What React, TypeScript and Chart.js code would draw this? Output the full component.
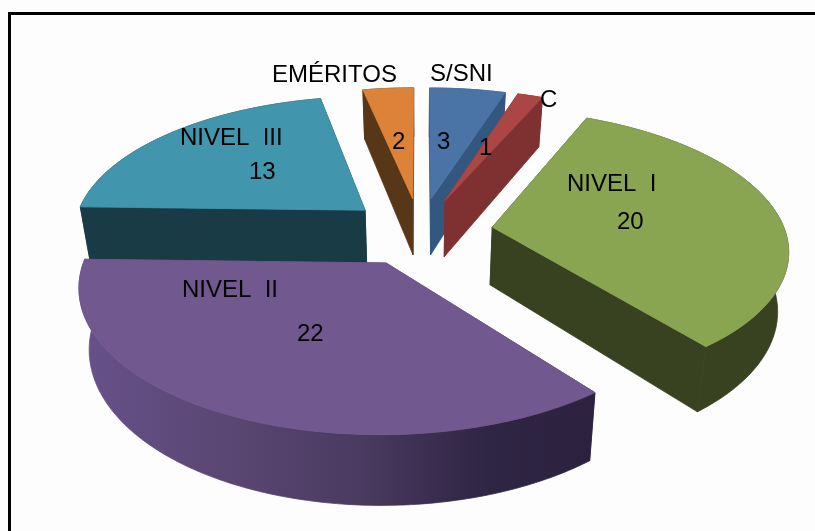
import React, { useEffect, useRef } from "react";
import { Chart, registerables } from "chart.js";

Chart.register(...registerables);

const categories = ["S/SNI", "C", "NIVEL  I", "NIVEL  II", "NIVEL  III", "EMÉRITOS"];
const values = [3, 1, 20, 22, 13, 2];
const topColors = ["#4a74a6", "#aa4644", "#8aa552", "#71588f", "#4196ae", "#dd8339"];
const wallColors = ["#33577f", "#7e3130", "#384220", "#5a4672", "#193b46", "#583618"];

// Anchor of each text, left edge and baseline, for category then value.
const categoryAnchors = [[430, 81], [540, 107], [567, 191], [182, 297], [180, 145], [272, 82]];
const valueAnchors = [[437, 149], [479, 155], [617, 229], [297, 341], [249, 179], [392, 149]];

// Camera used to project the exploded pie: everything is relative to the arc radius.
const RADIUS_SCALE = 1.265;
const TILT = 0.465;
const CAMERA = 6.8;
const EXPLODE = 0.25;
const DEPTH = 58;
const BASE_SHRINK = 0.97;
const PAINT_ORDER = [4, 5, 0, 1, 2, 3];

const pie3d = {
  id: "pie3d",
  beforeDatasetsDraw(chart: any) {
    const ctx = chart.ctx as CanvasRenderingContext2D;
    const arcs = chart.getDatasetMeta(0).data;
    for (const i of PAINT_ORDER) {
      const a = arcs[i];
      const R = a.outerRadius * RADIUS_SCALE;
      const start = a.startAngle + Math.PI / 2;
      const end = a.endAngle + Math.PI / 2;
      const mid = (start + end) / 2;
      const ox = EXPLODE * Math.sin(mid);
      const oz = EXPLODE * Math.cos(mid);
      const top = (r: number, t: number) => {
        const X = ox + r * Math.sin(t);
        const Z = oz + r * Math.cos(t);
        const s = CAMERA / (CAMERA + Z);
        return { x: a.x + X * R * s, y: a.y - Z * R * TILT * s, s };
      };
      const base = (r: number, t: number) => {
        const p = top(r, t);
        return { x: a.x + (p.x - a.x) * BASE_SHRINK, y: p.y + DEPTH * p.s };
      };
      const steps = Math.max(4, Math.ceil((end - start) * 60));
      const rim: number[] = [];
      for (let k = 0; k <= steps; k++) rim.push(start + ((end - start) * k) / steps);

      const fillPath = (pts: { x: number; y: number }[], fill: any) => {
        ctx.beginPath();
        pts.forEach((p, n) => (n ? ctx.lineTo(p.x, p.y) : ctx.moveTo(p.x, p.y)));
        ctx.closePath();
        ctx.fillStyle = fill;
        ctx.fill();
        // Close the hairline left between adjoining faces.
        ctx.strokeStyle = fill;
        ctx.lineWidth = 0.8;
        ctx.lineJoin = "round";
        ctx.stroke();
      };

      // Cut faces behind the rim, then the curved side, then the top surface.
      fillPath([top(0, 0), top(1, start), base(1, start), base(0, 0)], wallColors[i]);
      fillPath([top(0, 0), top(1, end), base(1, end), base(0, 0)], wallColors[i]);

      let rimFill: any = wallColors[i];
      if (i === 3) {
        const g = ctx.createLinearGradient(80, 0, 590, 0);
        g.addColorStop(0, "#67518a");
        g.addColorStop(0.3, "#5a4672");
        g.addColorStop(0.55, "#4a3a60");
        g.addColorStop(0.8, "#2f2544");
        g.addColorStop(1, "#2c2240");
        rimFill = g;
      }
      fillPath(
        [...rim.map((t) => top(1, t)), ...rim.slice().reverse().map((t) => base(1, t))],
        rimFill
      );
      fillPath([top(0, 0), ...rim.map((t) => top(1, t))], topColors[i]);
    }
    return false;
  },
  afterDraw(chart: any) {
    const ctx = chart.ctx as CanvasRenderingContext2D;
    ctx.save();
    ctx.fillStyle = "#000";
    ctx.font = '24px "Liberation Sans"';
    ctx.textAlign = "left";
    ctx.textBaseline = "alphabetic";
    categories.forEach((label, i) => {
      ctx.fillText(label, categoryAnchors[i][0], categoryAnchors[i][1]);
      ctx.fillText(String(values[i]), valueAnchors[i][0], valueAnchors[i][1]);
    });
    ctx.restore();
  },
};

export default function App() {
  const ref = useRef<HTMLCanvasElement>(null);
  useEffect(() => {
    const chart = new Chart(ref.current!, {
      type: "pie",
      data: {
        labels: categories,
        datasets: [{ data: values, backgroundColor: topColors, borderWidth: 0 }],
      },
      options: {
        responsive: false,
        animation: false,
        rotation: 0,
        layout: { padding: { left: 25, bottom: 68 } },
        plugins: { legend: { display: false }, tooltip: { enabled: false } },
      },
      plugins: [pie3d],
    } as any);
    return () => chart.destroy();
  }, []);
  return (
    <div style={{ position: "fixed", left: 0, top: 0, width: 815, height: 531, background: "#fdfdfd", overflow: "hidden" }}>
      <div style={{ position: "absolute", left: 8, top: 12, right: -10, bottom: -10, borderLeft: "3px solid #000", borderTop: "3px solid #000" }} />
      <canvas ref={ref} width={815} height={531} style={{ position: "absolute", left: 0, top: 0 }} />
    </div>
  );
}
